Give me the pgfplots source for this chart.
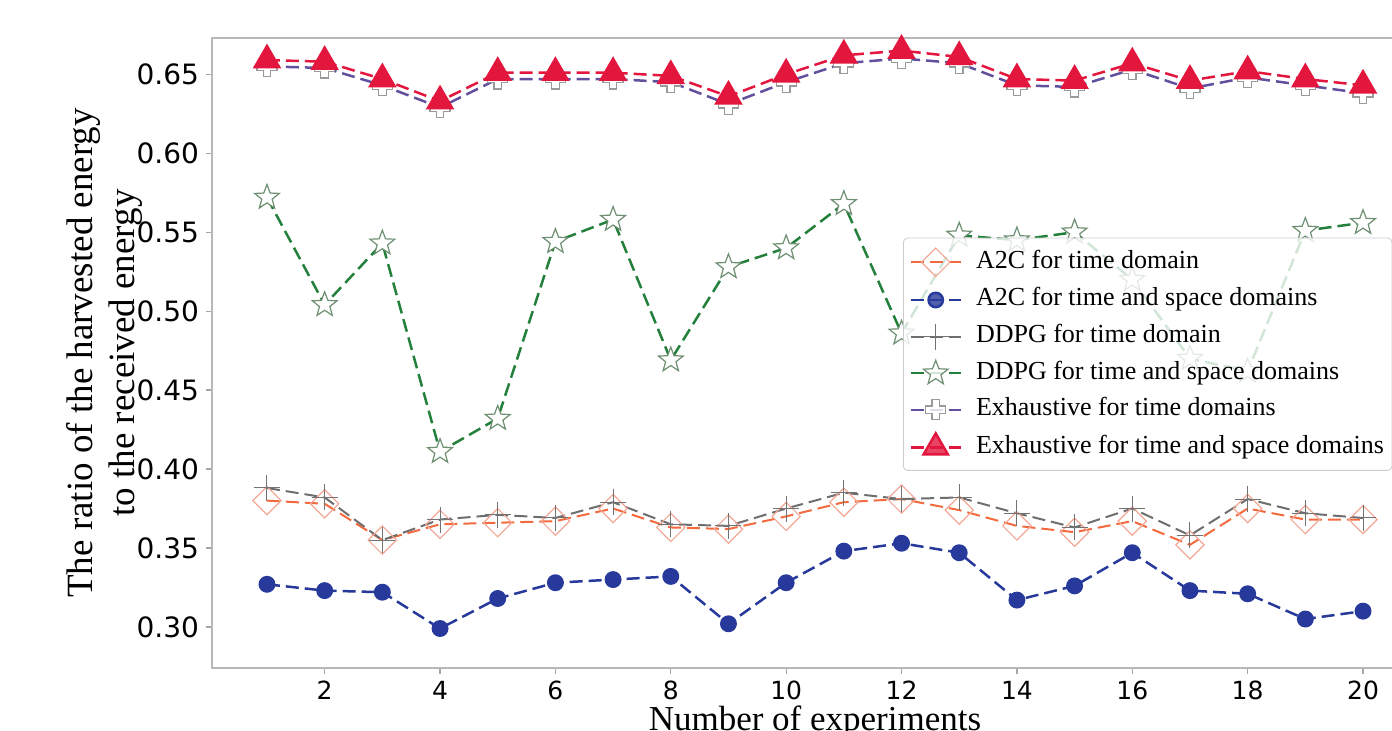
\documentclass[border=0pt]{standalone}
\usepackage{fontspec}
\setmainfont{Liberation Serif}
\newfontfamily\tickfont{DejaVu Sans}
\usepackage{pgfplots}
\pgfplotsset{compat=1.18}
\usetikzlibrary{calc}

\definecolor{a2cT}{HTML}{F26A3E}
\definecolor{a2cTmk}{HTML}{F3A896}
\definecolor{a2cTS}{HTML}{27399A}
\definecolor{ddpgT}{HTML}{6E6E6E}
\definecolor{ddpgTS}{HTML}{23803A}
\definecolor{ddpgTSmk}{HTML}{6E8F72}
\definecolor{exT}{HTML}{62509E}
\definecolor{exTmk}{HTML}{9A9A9A}
\definecolor{exTS}{HTML}{E3163E}

% open five-pointed star
\pgfdeclareplotmark{ostar}{%
  \pgfpathmoveto{\pgfqpointpolar{90}{\pgfplotmarksize}}%
  \pgfpathlineto{\pgfqpointpolar{126}{0.42\pgfplotmarksize}}%
  \pgfpathlineto{\pgfqpointpolar{162}{\pgfplotmarksize}}%
  \pgfpathlineto{\pgfqpointpolar{198}{0.42\pgfplotmarksize}}%
  \pgfpathlineto{\pgfqpointpolar{234}{\pgfplotmarksize}}%
  \pgfpathlineto{\pgfqpointpolar{270}{0.42\pgfplotmarksize}}%
  \pgfpathlineto{\pgfqpointpolar{306}{\pgfplotmarksize}}%
  \pgfpathlineto{\pgfqpointpolar{342}{0.42\pgfplotmarksize}}%
  \pgfpathlineto{\pgfqpointpolar{18}{\pgfplotmarksize}}%
  \pgfpathlineto{\pgfqpointpolar{54}{0.42\pgfplotmarksize}}%
  \pgfpathclose\pgfusepathqfillstroke}
% fat plus outline
\pgfdeclareplotmark{fatplus}{%
  \pgfpathmoveto{\pgfqpoint{0.38\pgfplotmarksize}{\pgfplotmarksize}}%
  \pgfpathlineto{\pgfqpoint{0.38\pgfplotmarksize}{0.38\pgfplotmarksize}}%
  \pgfpathlineto{\pgfqpoint{\pgfplotmarksize}{0.38\pgfplotmarksize}}%
  \pgfpathlineto{\pgfqpoint{\pgfplotmarksize}{-0.38\pgfplotmarksize}}%
  \pgfpathlineto{\pgfqpoint{0.38\pgfplotmarksize}{-0.38\pgfplotmarksize}}%
  \pgfpathlineto{\pgfqpoint{0.38\pgfplotmarksize}{-\pgfplotmarksize}}%
  \pgfpathlineto{\pgfqpoint{-0.38\pgfplotmarksize}{-\pgfplotmarksize}}%
  \pgfpathlineto{\pgfqpoint{-0.38\pgfplotmarksize}{-0.38\pgfplotmarksize}}%
  \pgfpathlineto{\pgfqpoint{-\pgfplotmarksize}{-0.38\pgfplotmarksize}}%
  \pgfpathlineto{\pgfqpoint{-\pgfplotmarksize}{0.38\pgfplotmarksize}}%
  \pgfpathlineto{\pgfqpoint{-0.38\pgfplotmarksize}{0.38\pgfplotmarksize}}%
  \pgfpathlineto{\pgfqpoint{-0.38\pgfplotmarksize}{\pgfplotmarksize}}%
  \pgfpathclose\pgfusepathqfillstroke}

\begin{document}
\begin{tikzpicture}
\begin{axis}[
  scale only axis, width=603pt, height=315pt,
  xmin=0.047, xmax=20.953, ymin=0.274, ymax=0.673,
  xtick={2,4,...,20},
  ytick={0.30,0.35,...,0.66},
  /pgf/number format/assume math mode=true,
  yticklabel style={/pgf/number format/fixed, /pgf/number format/fixed zerofill,
    /pgf/number format/precision=2},
  xticklabel style={font=\tickfont\fontsize{12.5}{14}\selectfont},
  yticklabel style={font=\tickfont\fontsize{14}{16}\selectfont},
  axis line style={draw=black!28, line width=0.7pt},
  tick style={draw=black!35, line width=0.6pt},
  tick align=outside, major tick length=3pt,
  xtick pos=bottom, ytick pos=left,
  xlabel={Number of experiments},
  ylabel={The ratio of the harvested energy\\to the received energy},
  every axis x label/.style={at={(rel axis cs:0.5,0)}, yshift=-27pt, anchor=center,
    font=\fontsize{17.5}{20}\selectfont},
  every axis y label/.style={at={(rel axis cs:0,0.5)}, xshift=-54pt, rotate=90, anchor=center,
    align=center, font=\fontsize{18.5}{21}\selectfont},
  every axis plot/.append style={line width=1.25pt, dash pattern=on 6.5pt off 3pt},
  legend style={at={(rel axis cs:0.573,0.683)}, anchor=north west,
    draw=black!20, rounded corners=2pt, fill=white, fill opacity=0.8,
    draw opacity=1, text opacity=1,
    font=\fontsize{13}{15}\selectfont, row sep=5.3pt, column sep=6pt,
    inner xsep=3pt, inner ysep=5pt,
    nodes={inner sep=1pt, text height=8.5pt, text depth=2.5pt}},
  legend cell align=left,
  legend image code/.code={\draw[mark repeat=2,mark phase=2,#1]
    plot coordinates {(0cm,0cm) (0.44cm,0cm) (0.88cm,0cm)};},
]
\addplot[color=a2cT, line width=1pt, mark=square, mark size=5pt,
  mark options={solid, rotate=45, draw=a2cTmk, fill=none, line width=0.6pt}] coordinates {
  (1,0.380)(2,0.378)(3,0.355)(4,0.365)(5,0.366)(6,0.367)(7,0.375)(8,0.363)
  (9,0.362)(10,0.370)(11,0.379)(12,0.381)(13,0.374)(14,0.364)(15,0.360)
  (16,0.367)(17,0.352)(18,0.375)(19,0.368)(20,0.368)
};
\addlegendentry{A2C for time domain}

\addplot[color=a2cTS, mark=*, mark size=3.6pt, mark options={solid}] coordinates {
  (1,0.327)(2,0.323)(3,0.322)(4,0.299)(5,0.318)(6,0.328)(7,0.330)(8,0.332)
  (9,0.302)(10,0.328)(11,0.348)(12,0.353)(13,0.347)(14,0.317)(15,0.326)
  (16,0.347)(17,0.323)(18,0.321)(19,0.305)(20,0.310)
};
\addlegendentry{A2C for time and space domains}

\addplot[color=ddpgT, line width=1pt, mark=+, mark size=6.5pt,
  mark options={solid, draw=black!55, line width=0.5pt}] coordinates {
  (1,0.388)(2,0.382)(3,0.355)(4,0.368)(5,0.371)(6,0.369)(7,0.379)(8,0.365)
  (9,0.364)(10,0.375)(11,0.385)(12,0.381)(13,0.382)(14,0.372)(15,0.363)
  (16,0.375)(17,0.358)(18,0.381)(19,0.372)(20,0.369)
};
\addlegendentry{DDPG for time domain}

\addplot[color=ddpgTS, mark=ostar, mark size=6.5pt,
  mark options={solid, draw=ddpgTSmk, fill=white, line width=0.6pt}] coordinates {
  (1,0.572)(2,0.504)(3,0.543)(4,0.411)(5,0.432)(6,0.544)(7,0.558)(8,0.469)
  (9,0.528)(10,0.540)(11,0.568)(12,0.486)(13,0.548)(14,0.545)(15,0.550)
  (16,0.520)(17,0.470)(18,0.462)(19,0.551)(20,0.556)
};
\addlegendentry{DDPG for time and space domains}

\addplot[color=exT, mark=fatplus, mark size=5pt,
  mark options={solid, draw=exTmk, fill=white, line width=0.6pt}] coordinates {
  (1,0.655)(2,0.654)(3,0.643)(4,0.629)(5,0.647)(6,0.647)(7,0.647)(8,0.645)
  (9,0.631)(10,0.645)(11,0.657)(12,0.660)(13,0.657)(14,0.643)(15,0.642)
  (16,0.653)(17,0.641)(18,0.648)(19,0.643)(20,0.638)
};
\addlegendentry{Exhaustive for time domains}

\addplot[color=exTS, mark=triangle*, mark size=7pt,
  mark options={solid, fill=exTS}] coordinates {
  (1,0.659)(2,0.658)(3,0.647)(4,0.633)(5,0.651)(6,0.651)(7,0.651)(8,0.649)
  (9,0.636)(10,0.650)(11,0.662)(12,0.665)(13,0.661)(14,0.647)(15,0.646)
  (16,0.657)(17,0.646)(18,0.652)(19,0.647)(20,0.643)
};
\addlegendentry{Exhaustive for time and space domains}

\coordinate (sw) at (rel axis cs:0,0);
\coordinate (nw) at (rel axis cs:0,1);
\end{axis}
\pgfresetboundingbox
\path[use as bounding box] ($(sw)+(-106pt,-31.5pt)$) rectangle ($(nw)+(590pt,19pt)$);
\end{tikzpicture}
\end{document}
